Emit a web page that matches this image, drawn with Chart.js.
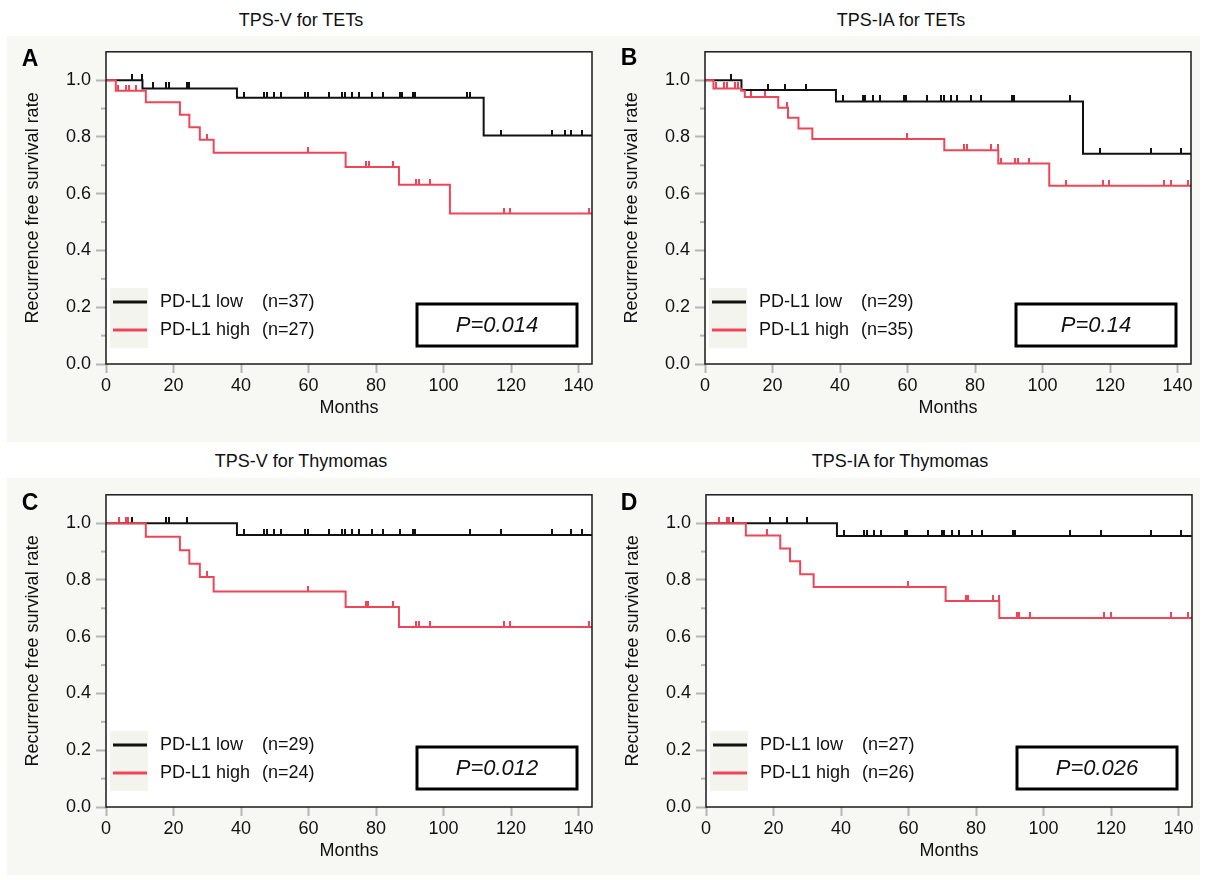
<!DOCTYPE html>
<html>
<head>
<meta charset="utf-8">
<script src="https://cdn.jsdelivr.net/npm/chart.js@4.4.1/dist/chart.umd.min.js"></script>
<style>
  body { margin: 0; background: #fff; width: 1207px; height: 880px; position: relative; overflow: hidden;
         font-family: "Liberation Sans", Arial, sans-serif; }
  .band { position: absolute; left: 7px; width: 1193px; background: #f7f7f3; }
  .title { position: absolute; font-size: 18px; color: #111; transform: translate(-50%, -50%); white-space: nowrap; }
  .letter { position: absolute; font-size: 23px; font-weight: bold; color: #000; transform: translate(-50%, -50%); }
  .panel { position: absolute; width: 600px; height: 398px; }
</style>
</head>
<body>
<div class="band" style="top:36px;height:406px"></div>
<div class="band" style="top:478px;height:397px"></div>

<div class="title" style="left:301px;top:20px">TPS-V for TETs</div>
<div class="title" style="left:901px;top:20px">TPS-IA for TETs</div>
<div class="title" style="left:301px;top:461px">TPS-V for Thymomas</div>
<div class="title" style="left:900px;top:461px">TPS-IA for Thymomas</div>

<div class="panel" style="left:0;top:36px"><canvas id="chartA"></canvas></div>
<div class="panel" style="left:599px;top:36px"><canvas id="chartB"></canvas></div>
<div class="panel" style="left:0;top:479px"><canvas id="chartC"></canvas></div>
<div class="panel" style="left:600px;top:479px"><canvas id="chartD"></canvas></div>

<div class="letter" style="left:30px;top:58px">A</div>
<div class="letter" style="left:629px;top:57px">B</div>
<div class="letter" style="left:30px;top:502px">C</div>
<div class="letter" style="left:629px;top:502px">D</div>

<script>
// axis ticks
const xTicks = [0, 20, 40, 60, 80, 100, 120, 140];
const yMinorTicks = [0.1, 0.3, 0.5, 0.7, 0.9];

// A: TPS-V for TETs
const aLowTimes = [0, 10.8, 38.8, 111.9, 144];
const aLowSurv = [1, 0.971, 0.938, 0.805, 0.805];
const aLowCens = [7.8, 10.6, 13.9, 17.8, 18.6, 23.9, 24.7, 40.8, 46.9, 47.7, 49.8, 51.8, 59.0, 59.8, 66.0, 70.0, 70.8, 72.9, 74.9, 78.9, 82.0, 87.0, 87.7, 90.9, 91.7, 107.0, 107.8, 117.0, 132.0, 135.9, 137.8, 140.9];
const aHighTimes = [0, 2.9, 11.8, 21.9, 24.7, 27.8, 31.9, 71.0, 86.8, 101.9, 144];
const aHighSurv = [1, 0.963, 0.922, 0.878, 0.834, 0.790, 0.744, 0.694, 0.632, 0.530, 0.530];
const aHighCens = [3.7, 6.0, 6.8, 8.8, 29.8, 59.9, 76.9, 77.8, 85.0, 91.9, 92.7, 96.0, 118.0, 119.8, 143.0];

// B: TPS-IA for TETs
const bLowTimes = [0, 10.8, 38.8, 112.0, 144];
const bLowSurv = [1, 0.965, 0.925, 0.741, 0.741];
const bLowCens = [7.7, 18.7, 23.7, 29.9, 40.8, 46.8, 47.5, 49.8, 51.8, 58.9, 59.7, 65.9, 69.9, 70.7, 72.8, 74.8, 78.9, 81.8, 90.9, 91.7, 108.0, 117.0, 132.1, 141.1];
const bHighTimes = [0, 2.5, 10.8, 11.8, 21.7, 24.6, 27.7, 31.8, 70.9, 86.9, 102.0, 144];
const bHighSurv = [1, 0.971, 0.963, 0.941, 0.903, 0.868, 0.830, 0.793, 0.753, 0.706, 0.628, 0.628];
const bHighCens = [3.3, 5.7, 6.5, 8.8, 9.8, 13.6, 17.7, 24.4, 59.8, 76.8, 77.6, 84.8, 86.7, 87.7, 91.9, 92.7, 95.9, 107.0, 118.0, 119.8, 136.0, 138.0, 143.2];

// C: TPS-V for Thymomas
const cLowTimes = [0, 38.8, 144];
const cLowSurv = [1, 0.958, 0.958];
const cLowCens = [7.8, 17.8, 18.6, 23.9, 40.8, 46.9, 47.7, 49.8, 51.8, 59.0, 59.8, 66.0, 70.0, 70.8, 72.9, 74.9, 78.9, 82.0, 87.0, 90.9, 91.7, 107.8, 117.0, 132.0, 137.8, 140.9];
const cHighTimes = [0, 11.8, 21.9, 24.7, 27.8, 31.9, 71.0, 86.8, 144];
const cHighSurv = [1, 0.952, 0.905, 0.857, 0.810, 0.759, 0.705, 0.634, 0.634];
const cHighCens = [3.9, 5.8, 6.6, 29.9, 59.9, 76.9, 77.7, 85.0, 91.9, 92.7, 96.0, 118.0, 119.8, 143.0];

// D: TPS-IA for Thymomas
const dLowTimes = [0, 38.8, 144];
const dLowSurv = [1, 0.955, 0.955];
const dLowCens = [7.9, 18.9, 23.9, 29.9, 40.8, 46.9, 47.7, 49.9, 51.9, 58.9, 59.7, 65.9, 69.8, 70.6, 72.9, 74.9, 78.9, 81.9, 90.9, 91.7, 107.8, 116.9, 131.8, 140.8];
const dHighTimes = [0, 11.8, 22.0, 24.9, 27.9, 31.9, 71.0, 86.9, 144];
const dHighSurv = [1, 0.957, 0.911, 0.866, 0.820, 0.775, 0.726, 0.666, 0.666];
const dHighCens = [3.9, 6.1, 6.9, 18.0, 59.9, 77.0, 77.7, 85.0, 86.7, 92.0, 92.8, 95.9, 118.0, 119.9, 137.8, 142.9];

const RED = '#ee4658';
const FONT = '"Liberation Sans", Arial, sans-serif';

// vertical censor tick, drawn above the curve only
function tickImg(color) {
  const c = document.createElement('canvas');
  c.width = 2; c.height = 12;
  const g = c.getContext('2d');
  g.fillStyle = color;
  g.fillRect(0, 0, 2, 6);
  return c;
}
const blackTick = tickImg('#111');
const redTick = tickImg(RED);

function stepAt(times, surv, t) {
  let v = surv[0];
  for (let i = 0; i < times.length; i++) if (times[i] <= t) v = surv[i];
  return v;
}

const kmDecor = {
  id: 'kmDecor',
  beforeDatasetsDraw(chart) {
    const {ctx, chartArea: a} = chart;
    ctx.save();
    ctx.fillStyle = '#fff';
    ctx.fillRect(a.left, a.top, a.right - a.left, a.bottom - a.top);
    ctx.restore();
  },
  afterDraw(chart, args, opts) {
    const {ctx, chartArea: a} = chart;
    const y = chart.scales.y;
    ctx.save();
    // minor y ticks
    ctx.strokeStyle = '#b5b5b5';
    ctx.lineWidth = 2;
    yMinorTicks.forEach(v => {
      const py = y.getPixelForValue(v);
      ctx.beginPath(); ctx.moveTo(a.left - 5, py); ctx.lineTo(a.left, py); ctx.stroke();
    });
    // frame
    ctx.strokeStyle = '#1a1a1a';
    ctx.lineWidth = 1.5;
    ctx.strokeRect(a.left, a.top, a.right - a.left, a.bottom - a.top);
    // legend
    ctx.fillStyle = '#f4f4ee';
    ctx.fillRect(a.left + 4, a.bottom - 76, 38, 60);
    const rows = [['#111', 'PD-L1 low', opts.nLow, 62], [RED, 'PD-L1 high', opts.nHigh, 34]];
    ctx.font = '18px ' + FONT;
    ctx.textBaseline = 'middle';
    rows.forEach(([col, lab, n, dy]) => {
      const ly = a.bottom - dy;
      ctx.strokeStyle = col; ctx.lineWidth = 3;
      ctx.beginPath(); ctx.moveTo(a.left + 7, ly); ctx.lineTo(a.left + 41, ly); ctx.stroke();
      ctx.fillStyle = '#111';
      ctx.fillText(lab, a.left + 54, ly);
      ctx.fillText('(n=' + n + ')', a.left + 156, ly);
    });
    // p-value box
    const bx = a.right - 175, by = a.bottom - 60;
    ctx.fillStyle = '#fff';
    ctx.fillRect(bx, by, 160, 42);
    ctx.strokeStyle = '#000'; ctx.lineWidth = 3;
    ctx.strokeRect(bx, by, 160, 42);
    ctx.fillStyle = '#111';
    ctx.font = 'italic 22px ' + FONT;
    ctx.textAlign = 'center';
    ctx.fillText('P=' + opts.p, bx + 80, by + 22);
    ctx.restore();
  }
};

function makePanel(id, lowT, lowS, lowC, highT, highS, highC, nLow, nHigh, p) {
  const line = (t, s) => t.map((v, i) => ({x: v, y: s[i]}));
  const cens = (c, t, s) => c.map(v => ({x: v, y: stepAt(t, s, v)}));
  new Chart(document.getElementById(id), {
    type: 'line',
    data: {
      datasets: [
        {data: line(highT, highS), borderColor: RED, borderWidth: 2, stepped: 'before', pointRadius: 0},
        {data: line(lowT, lowS), borderColor: '#111', borderWidth: 2, stepped: 'before', pointRadius: 0},
        {data: cens(highC, highT, highS), showLine: false, pointStyle: redTick, pointRadius: 3},
        {data: cens(lowC, lowT, lowS), showLine: false, pointStyle: blackTick, pointRadius: 3}
      ]
    },
    options: {
      responsive: false,
      animation: false,
      events: [],
      layout: {padding: {left: 0, right: 8, top: 15, bottom: 0}},
      plugins: {legend: {display: false}, tooltip: {enabled: false},
                kmDecor: {nLow: nLow, nHigh: nHigh, p: p}},
      scales: {
        x: {
          type: 'linear', min: 0, max: 144,
          afterBuildTicks: s => { s.ticks = xTicks.map(v => ({value: v})); },
          afterFit: s => { s.height = 70; },
          grid: {drawOnChartArea: false, tickLength: 9, tickColor: '#b5b5b5', tickWidth: 2},
          border: {display: false},
          ticks: {autoSkip: false, maxRotation: 0, padding: 2, color: '#111', font: {family: FONT, size: 18}},
          title: {display: true, text: 'Months', color: '#111', font: {family: FONT, size: 18}, padding: {top: 0, bottom: 15}}
        },
        y: {
          min: 0, max: 1.1,
          afterFit: s => { s.width = 106; },
          grid: {drawOnChartArea: false, tickLength: 10, tickColor: '#b5b5b5', tickWidth: 2},
          border: {display: false},
          ticks: {stepSize: 0.2, includeBounds: false, padding: 5, color: '#111',
                  font: {family: FONT, size: 18}, callback: v => v.toFixed(1)},
          title: {display: true, text: 'Recurrence free survival rate', color: '#111',
                  font: {family: FONT, size: 18}, padding: {top: 22, bottom: 0}}
        }
      }
    },
    plugins: [kmDecor]
  });
}

['chartA', 'chartB', 'chartC', 'chartD'].forEach(id => {
  const c = document.getElementById(id);
  c.width = 600; c.height = 398;
});

makePanel('chartA', aLowTimes, aLowSurv, aLowCens, aHighTimes, aHighSurv, aHighCens, 37, 27, '0.014');
makePanel('chartB', bLowTimes, bLowSurv, bLowCens, bHighTimes, bHighSurv, bHighCens, 29, 35, '0.14');
makePanel('chartC', cLowTimes, cLowSurv, cLowCens, cHighTimes, cHighSurv, cHighCens, 29, 24, '0.012');
makePanel('chartD', dLowTimes, dLowSurv, dLowCens, dHighTimes, dHighSurv, dHighCens, 27, 26, '0.026');
</script>
</body>
</html>
